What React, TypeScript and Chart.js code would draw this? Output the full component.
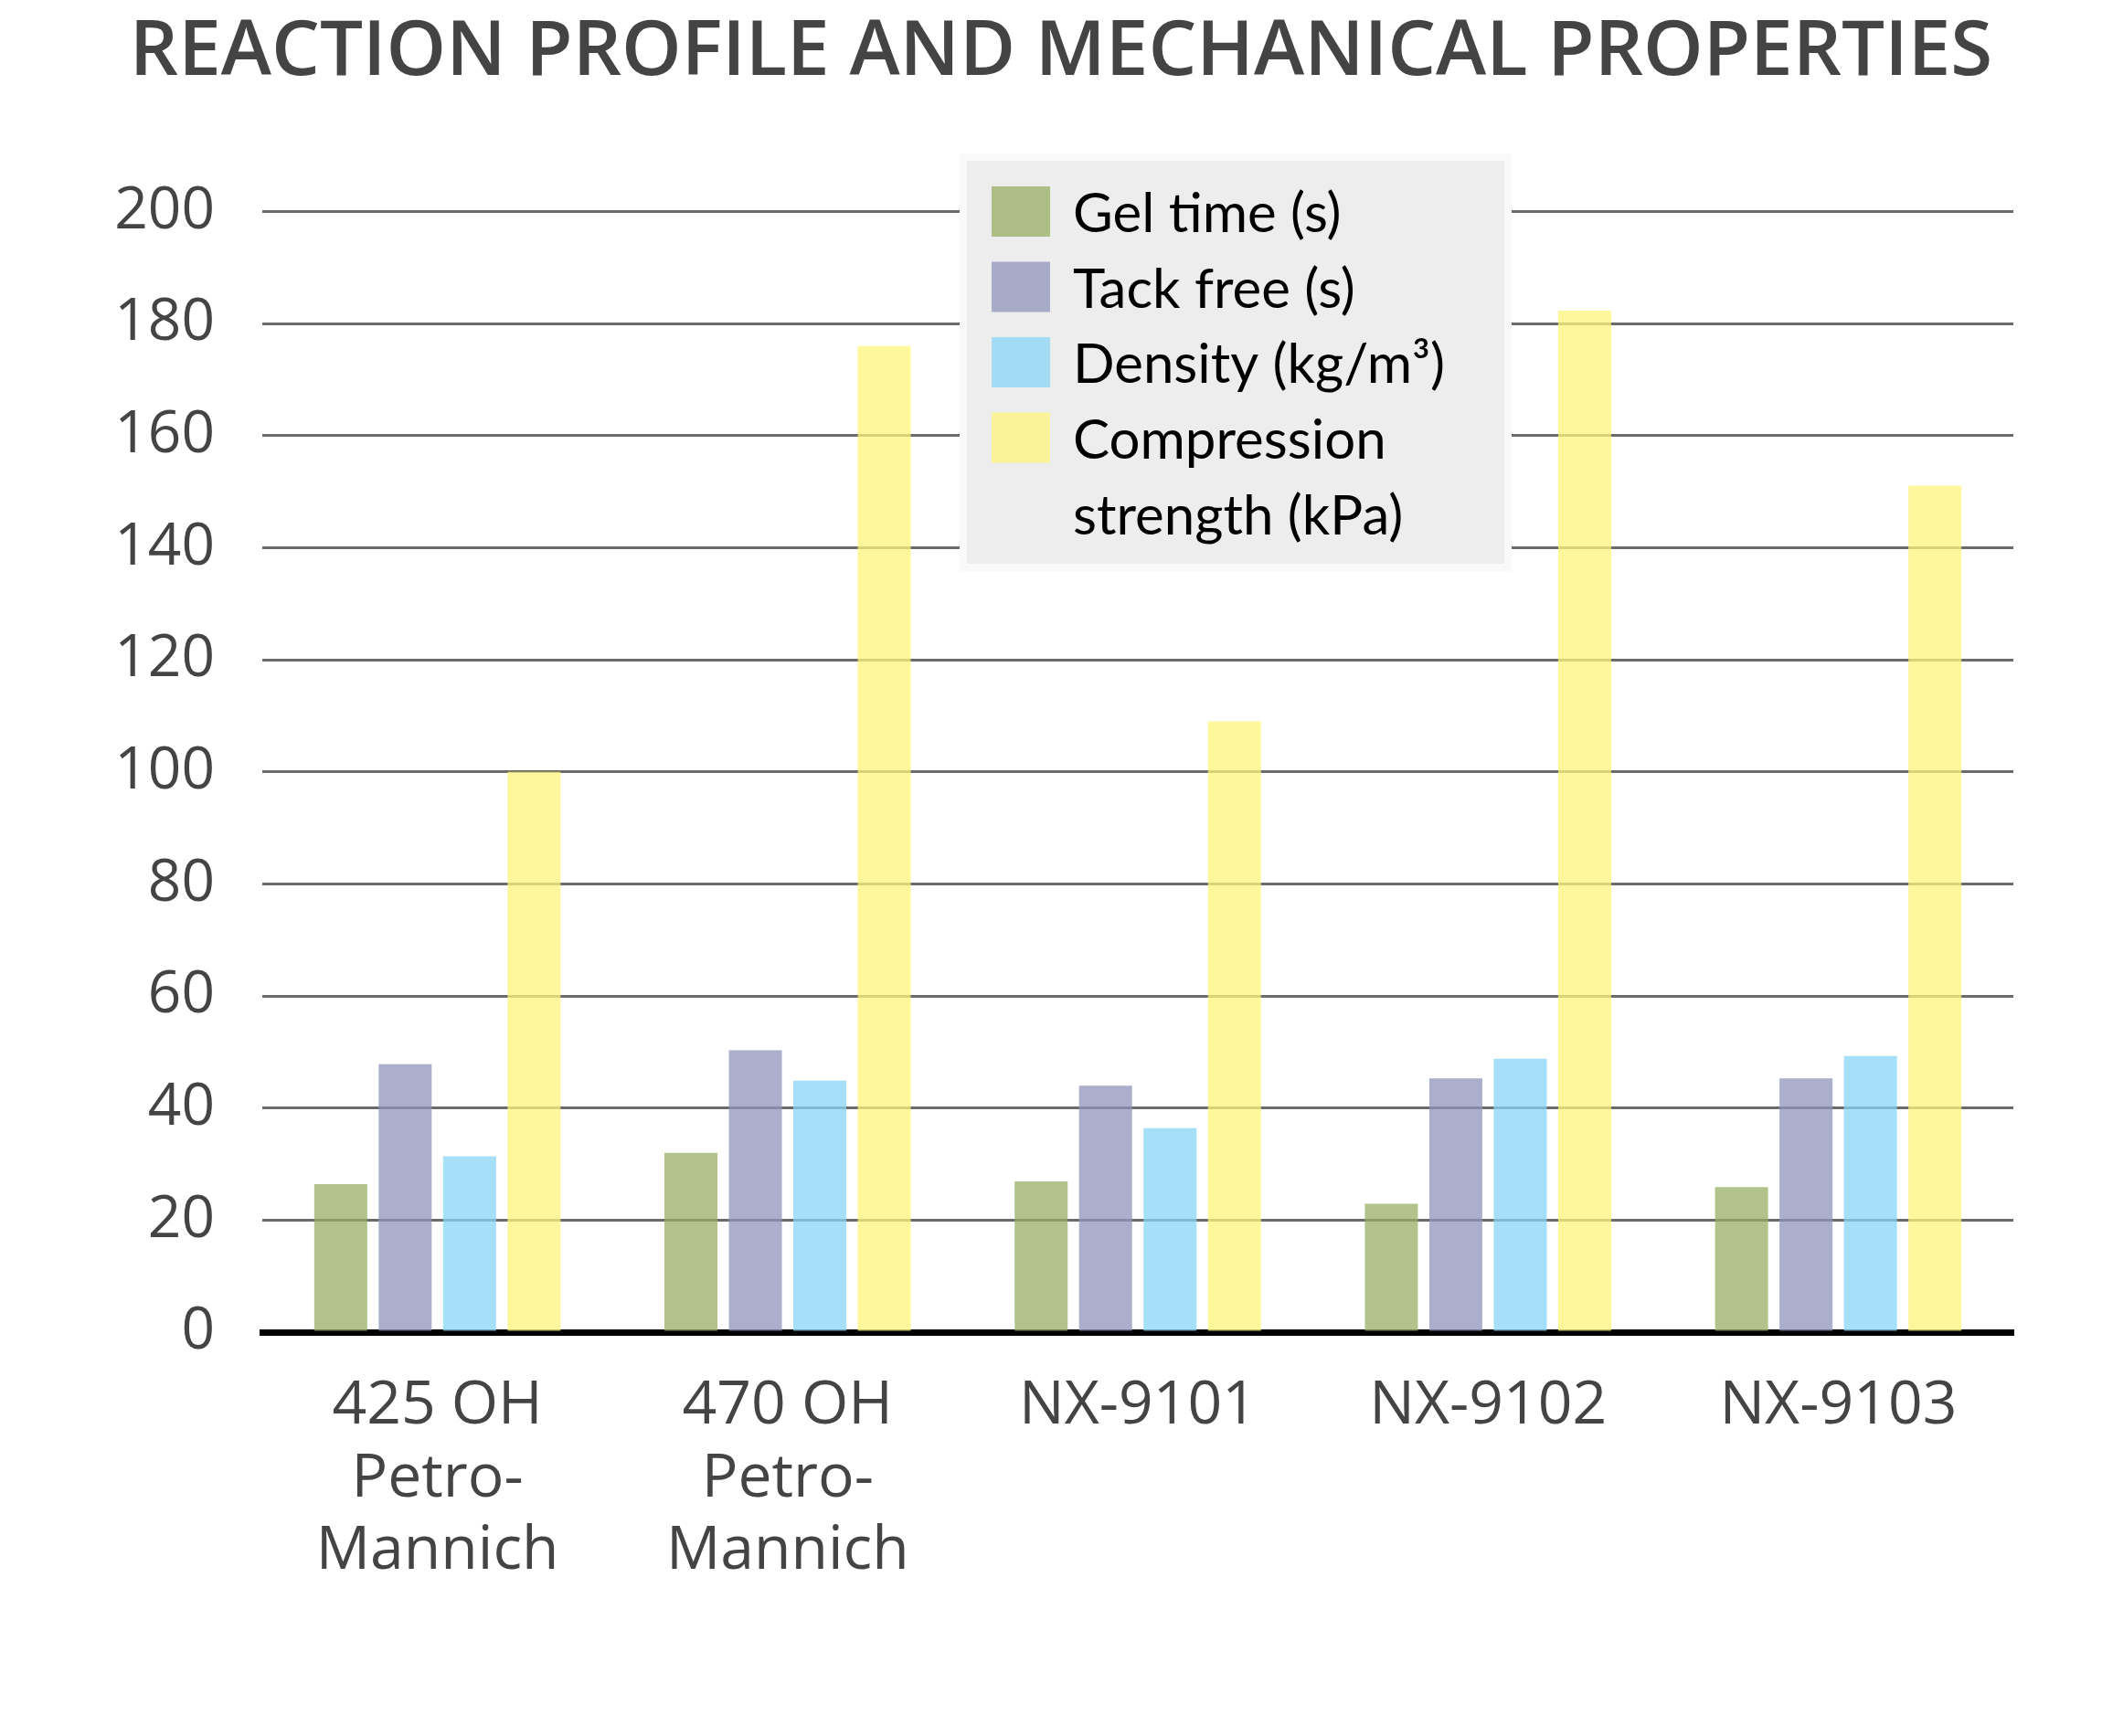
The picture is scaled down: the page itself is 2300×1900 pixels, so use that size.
import React, { useEffect, useRef } from "react";
import { Chart, registerables } from "chart.js";

Chart.register(...registerables);

const titleText = "REACTION PROFILE AND MECHANICAL PROPERTIES";
const categories: (string | string[])[] = [
  ["425 OH", "Petro-", "Mannich"],
  ["470 OH", "Petro-", "Mannich"],
  "NX-9101",
  "NX-9102",
  "NX-9103",
];
const seriesNames = ["Gel time (s)", "Tack free (s)", "Density (kg/m³)", "Compression strength (kPa)"];
const legendLines = [["Gel time (s)"], ["Tack free (s)"], ["Density (kg/m³)"], ["Compression", "strength (kPa)"]];
const gelTime = [26.4, 32.0, 26.9, 22.9, 25.9];
const tackFree = [47.8, 50.3, 44.0, 45.3, 45.3];
const density = [31.4, 44.9, 36.4, 48.8, 49.3];
const compression = [100, 176, 109, 182.3, 151.1];
const seriesColors = [
  "rgba(151,175,100,0.75)",
  "rgba(143,148,185,0.75)",
  "rgba(136,212,245,0.75)",
  "rgba(255,244,121,0.75)",
];
const yMin = 0;
const yMax = 200;
const yStep = 20;

const legendPlugin = {
  id: "boxLegend",
  afterDatasetsDraw(chart: any) {
    const ctx = chart.ctx;
    const bx = 1058, by = 176, bw = 588, bh = 441;
    ctx.save();
    ctx.fillStyle = "#f9f9f9";
    ctx.fillRect(bx - 8, by - 8, bw + 16, bh + 16);
    ctx.fillStyle = "#ededed";
    ctx.fillRect(bx, by, bw, bh);
    ctx.font = '60px Lato';
    ctx.textAlign = "left";
    ctx.textBaseline = "alphabetic";
    chart.data.datasets.forEach((ds: any, i: number) => {
      const rowTop = 204 + i * 82.5;
      ctx.fillStyle = ds.backgroundColor;
      ctx.fillRect(1085, rowTop, 64, 55);
      ctx.fillStyle = "#000000";
      legendLines[i].forEach((line, j) => {
        ctx.fillText(line, 1174, rowTop + 50 + j * 83);
      });
    });
    ctx.restore();
  },
};

export default function App() {
  const canvasRef = useRef<HTMLCanvasElement | null>(null);

  useEffect(() => {
    let chart: Chart | null = null;
    let cancelled = false;
    const fontsReady = (document as any).fonts
      ? Promise.all([
          (document as any).fonts.load('600 84px "Open Sans"'),
          (document as any).fonts.load('64px "Open Sans"'),
          (document as any).fonts.load('60px Lato'),
        ]).catch(() => null)
      : Promise.resolve(null);
    fontsReady.then(() => {
      if (cancelled || !canvasRef.current) return;
      const values = [gelTime, tackFree, density, compression];
      chart = new Chart(canvasRef.current, {
        type: "bar",
        data: {
          labels: categories,
          datasets: values.map((v, i) => ({
            label: seriesNames[i],
            data: v,
            backgroundColor: seriesColors[i],
            borderWidth: 0,
            categoryPercentage: 0.736,
            barPercentage: 0.823,
          })),
        },
        options: {
          responsive: false,
          animation: false,
          devicePixelRatio: 1,
          layout: { padding: { left: 119, right: 97, top: 0, bottom: 0 } },
          plugins: {
            legend: { display: false },
            tooltip: { enabled: false },
            title: {
              display: true,
              text: titleText,
              color: "#444444",
              font: { family: "'Open Sans'", size: 83.5, weight: "600", lineHeight: 1.2 },
              padding: { top: 8.4, bottom: 122.9 },
            },
          },
          scales: {
            x: {
              z: 1,
              grid: { display: false, drawTicks: false },
              border: { display: true, color: "#000000", width: 7 },
              ticks: {
                color: "#444444",
                font: { family: "'Open Sans'", size: 66, lineHeight: 1.21 },
                padding: 41,
                maxRotation: 0,
                autoSkip: false,
              },
              afterFit(scale: any) {
                scale.height = 442;
              },
            },
            y: {
              min: yMin,
              max: yMax,
              grid: { color: "#6b6b6b", lineWidth: 3, drawTicks: false },
              border: { display: false },
              ticks: {
                stepSize: yStep,
                color: "#444444",
                font: { family: "'Open Sans'", size: 64 },
                padding: 52,
              },
              afterFit(scale: any) {
                scale.width = 168;
              },
            },
          },
        },
        plugins: [legendPlugin],
      });
    });
    return () => {
      cancelled = true;
      if (chart) chart.destroy();
    };
  }, []);

  return (
    <div style={{ position: "absolute", left: 0, top: 0, width: 2300, height: 1900, background: "#ffffff" }}>
      <canvas ref={canvasRef} width={2300} height={1900} style={{ width: 2300, height: 1900, display: "block" }} />
    </div>
  );
}
